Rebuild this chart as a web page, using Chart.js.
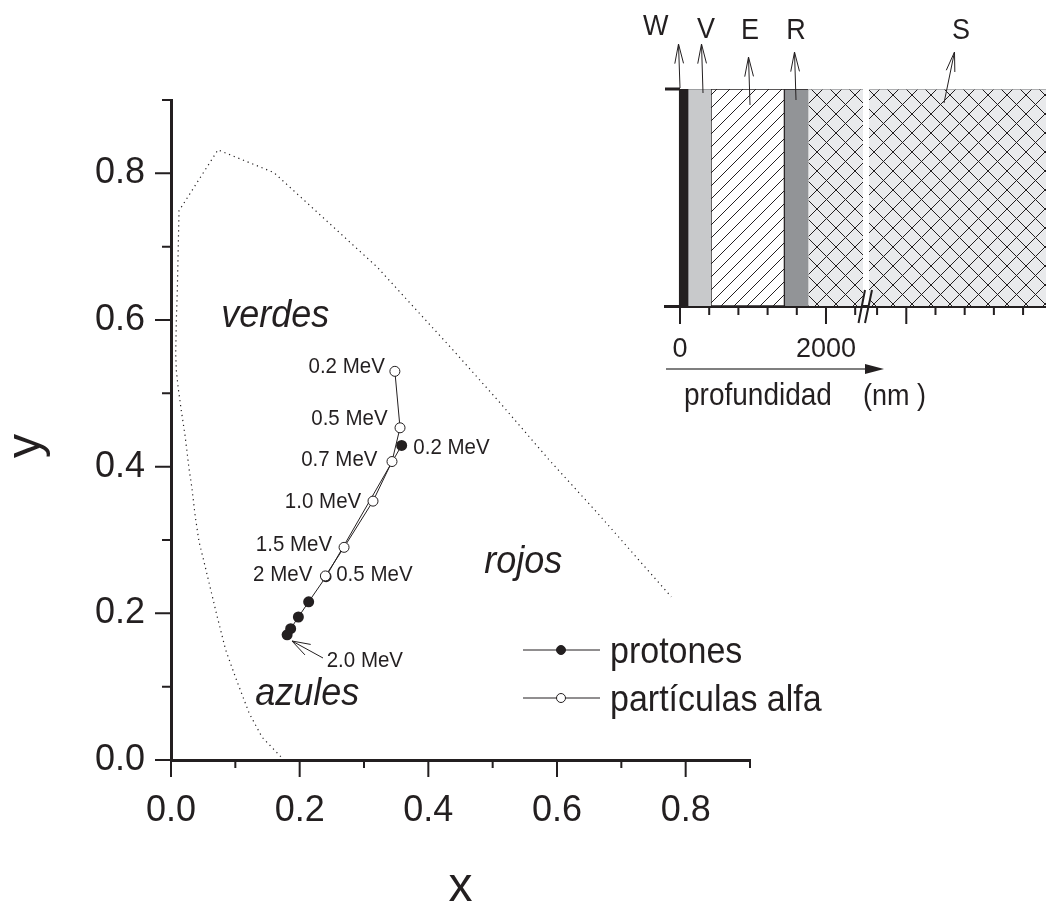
<!DOCTYPE html>
<html>
<head>
<meta charset="utf-8">
<title>Coordenadas de color</title>
<script src="https://cdn.jsdelivr.net/npm/chart.js@4/dist/chart.umd.min.js"></script>
<style>
    body { margin: 0; background: #fff; }
    canvas { position: absolute; left: 0; top: 0; }
</style>
</head>
<body>
<canvas id="cie-chart" width="1046" height="909"></canvas>
<canvas id="layers-chart" width="1046" height="909"></canvas>
<script>
// Chromaticity values
const locusX = [0.1707, 0.1416, 0.1214, 0.1007, 0.085, 0.0706, 0.0607, 0.0514, 0.0436, 0.0374, 0.0327, 0.028, 0.0218, 0.0156, 0.0114, 0.0083, 0.0073, 0.0083, 0.0098, 0.0125, 0.073, 0.160, 0.3206, 0.4405, 0.5105, 0.5883, 0.666, 0.7388, 0.7777];
const locusY = [0.0045, 0.031, 0.064, 0.1117, 0.150, 0.1998, 0.236, 0.270, 0.2975, 0.3338, 0.370, 0.3974, 0.4428, 0.479, 0.506, 0.531, 0.554, 0.5995, 0.640, 0.749, 0.832, 0.801, 0.672, 0.557, 0.488, 0.4087, 0.3338, 0.2612, 0.2225];
const alphaX = [0.348, 0.356, 0.3435, 0.314, 0.269, 0.240];
const alphaY = [0.530, 0.453, 0.407, 0.353, 0.290, 0.251];
const protonX = [0.3585, 0.241, 0.214, 0.198, 0.186, 0.1805];
const protonY = [0.429, 0.250, 0.2157, 0.195, 0.179, 0.1707];
const cieTicks = [0, 0.1, 0.2, 0.3, 0.4, 0.5, 0.6, 0.7, 0.8, 0.9];

// Layer stack of the inset, in nm
const layerNames = ['W', 'V', 'E', 'R', 'S', 'S'];
const layerStart = [-10, 110, 425, 1430, 1760, 2590];
const layerEnd = [110, 425, 1430, 1760, 2507, 5014];
const depthTicks = [0, 400, 800, 1200, 1600, 2000, 2400, 2700, 3100, 3500, 3900, 4300, 4700];
const depthMajor = [0, 2000, 3100];
const depthLabels = [0, 2000];

const energyLabels = ['0.2 MeV', '0.5 MeV', '0.7 MeV', '1.0 MeV', '1.5 MeV', '2 MeV', '0.5 MeV', '0.2 MeV', '2.0 MeV'];
const energyLabelX = [0.2137, 0.218, 0.2023, 0.177, 0.1318, 0.1276, 0.2568, 0.3766, 0.242];
const energyLabelY = [0.536, 0.465, 0.409, 0.3515, 0.294, 0.252, 0.252, 0.426, 0.135];
const regionLabels = ['verdes', 'rojos', 'azules'];
const regionLabelX = [0.078, 0.487, 0.131];
const regionLabelY = [0.590, 0.255, 0.075];

const INK = '#231f20';
const FONT = '"Liberation Sans", Arial, sans-serif';

// Open arrow head, the way the original was inked
function openArrow(ctx, x1, y1, x2, y2, barb, spread) {
    const angle = Math.atan2(y2 - y1, x2 - x1);
    ctx.save();
    ctx.strokeStyle = INK;
    ctx.lineWidth = 1;
    ctx.beginPath();
    ctx.moveTo(x1, y1);
    ctx.lineTo(x2, y2);
    [-spread, spread].forEach(a => {
        ctx.moveTo(x2, y2);
        ctx.lineTo(x2 - barb * Math.cos(angle + a), y2 - barb * Math.sin(angle + a));
    });
    ctx.stroke();
    ctx.restore();
}

// The original lettering is a little taller than it is wide, hence the stretch
function text(ctx, str, x, y, font, align, baseline) {
    ctx.save();
    ctx.fillStyle = INK;
    ctx.font = font;
    ctx.textAlign = align || 'left';
    ctx.textBaseline = baseline || 'alphabetic';
    ctx.translate(x, y);
    ctx.scale(1, 1.1);
    ctx.fillText(str, 0, 0);
    ctx.restore();
}

// Chart.js can't vary tick length per tick, so major and minor marks are drawn here
function drawTicks(ctx, scale, values, isMajor, majorLen, minorLen) {
    ctx.save();
    ctx.strokeStyle = INK;
    ctx.lineWidth = 2;
    ctx.beginPath();
    values.forEach(v => {
        const len = isMajor(v) ? majorLen : minorLen;
        const p = scale.getPixelForValue(v);
        if (scale.isHorizontal()) {
            ctx.moveTo(p, scale.top);
            ctx.lineTo(p, scale.top + len);
        } else {
            ctx.moveTo(scale.right, p);
            ctx.lineTo(scale.right - len, p);
        }
    });
    ctx.stroke();
    ctx.restore();
}

function isEven(v) {
    return Math.round(v * 10) % 2 === 0;
}

const ciePlugin = {
    id: 'cieExtras',
    afterDraw(chart) {
        const ctx = chart.ctx;
        const xs = chart.scales.x;
        const ys = chart.scales.y;
        drawTicks(ctx, xs, cieTicks, isEven, 17, 8);
        drawTicks(ctx, ys, cieTicks, isEven, 16, 9);

        energyLabels.forEach((t, i) => {
            text(ctx, t, xs.getPixelForValue(energyLabelX[i]), ys.getPixelForValue(energyLabelY[i]), '20.5px ' + FONT, 'left', 'middle');
        });
        regionLabels.forEach((t, i) => {
            text(ctx, t, xs.getPixelForValue(regionLabelX[i]), ys.getPixelForValue(regionLabelY[i]), 'italic 36px ' + FONT);
        });

        // 2.0 MeV pointer
        openArrow(ctx, 323, 658, 292, 641, 19, 0.32);

        // y axis title
        ctx.save();
        ctx.translate(39.5, 446);
        ctx.rotate(-Math.PI / 2);
        ctx.fillStyle = INK;
        ctx.font = '48px ' + FONT;
        ctx.textAlign = 'center';
        ctx.fillText('y', 0, 0);
        ctx.restore();

        // legend
        [['protones', 650, INK], ['partículas alfa', 698, '#fff']].forEach(row => {
            ctx.save();
            ctx.strokeStyle = INK;
            ctx.lineWidth = 1;
            ctx.beginPath();
            ctx.moveTo(523, row[1]);
            ctx.lineTo(600, row[1]);
            ctx.stroke();
            ctx.fillStyle = row[2];
            ctx.beginPath();
            ctx.arc(561, row[1], 4.5, 0, Math.PI * 2);
            ctx.fill();
            ctx.stroke();
            ctx.restore();
            text(ctx, row[0], 610, row[1] + 13, '34px ' + FONT);
        });
    }
};

new Chart(document.getElementById('cie-chart'), {
    type: 'scatter',
    plugins: [ciePlugin],
    data: {
        datasets: [
            {
                label: 'partículas alfa',
                data: alphaX.map((x, i) => ({ x: x, y: alphaY[i] })),
                showLine: true,
                borderColor: INK,
                borderWidth: 1,
                pointRadius: 5,
                pointBackgroundColor: '#fff',
                pointBorderColor: INK,
                pointBorderWidth: 1
            },
            {
                label: 'protones',
                data: protonX.map((x, i) => ({ x: x, y: protonY[i] })),
                showLine: true,
                borderColor: INK,
                borderWidth: 1,
                pointRadius: 5.5,
                pointBackgroundColor: INK,
                pointBorderColor: INK,
                pointBorderWidth: 0
            },
            {
                label: 'locus',
                data: locusX.map((x, i) => ({ x: x, y: locusY[i] })),
                showLine: true,
                borderColor: INK,
                borderWidth: 1.2,
                borderDash: [1.2, 3.8],
                pointRadius: 0
            }
        ]
    },
    options: {
        responsive: false,
        animation: false,
        layout: { padding: { left: 0, top: 100, right: 296, bottom: 0 } },
        plugins: { legend: { display: false }, tooltip: { enabled: false } },
        scales: {
            x: {
                type: 'linear',
                min: 0,
                max: 0.9,
                afterFit: s => { s.height = 149; },
                afterBuildTicks: s => { s.ticks = cieTicks.map(v => ({ value: v })); },
                grid: { display: false },
                border: { color: INK, width: 3 },
                title: { display: true, text: 'x', color: INK, font: { family: FONT, size: 48, lineHeight: 0.9 }, padding: { top: 0, bottom: 0 } },
                ticks: {
                    autoSkip: false,
                    maxRotation: 0,
                    padding: 21,
                    color: INK,
                    font: { family: FONT, size: 36 },
                    callback: v => isEven(v) ? v.toFixed(1) : ''
                }
            },
            y: {
                type: 'linear',
                min: 0,
                max: 0.9,
                afterFit: s => { s.width = 171; },
                afterBuildTicks: s => { s.ticks = cieTicks.map(v => ({ value: v })); },
                grid: { display: false },
                border: { color: INK, width: 3 },
                ticks: {
                    autoSkip: false,
                    padding: 18,
                    color: INK,
                    font: { family: FONT, size: 36 },
                    callback: v => isEven(v) ? v.toFixed(1) : ''
                }
            }
        }
    }
});

// Tiled hatch fills for the E and S layers
function hatch(size, both, background) {
    const tile = document.createElement('canvas');
    tile.width = size;
    tile.height = size;
    const c = tile.getContext('2d');
    c.fillStyle = background;
    c.fillRect(0, 0, size, size);
    c.strokeStyle = '#231f20';
    c.lineWidth = 1;
    c.beginPath();
    c.moveTo(-1, size + 1);
    c.lineTo(size + 1, -1);
    if (both) {
        c.moveTo(-1, -1);
        c.lineTo(size + 1, size + 1);
    }
    c.stroke();
    return c.createPattern(tile, 'repeat');
}

const singleHatch = hatch(13, false, '#fff');
const crossHatch = hatch(19, true, '#e9eaec');
const layerFill = [INK, '#c8c9cb', singleHatch, '#929497', crossHatch, crossHatch];
const layerBorder = [
    0,
    { top: 1, bottom: 0, left: 0, right: 0 },
    1,
    { top: 1, bottom: 0, left: 1, right: 0 },
    { top: 1, bottom: 0, left: 0, right: 0 },
    { top: 1, bottom: 0, left: 0, right: 0 }
];
const layerLine = [INK, '#8f9193', INK, INK, '#9a9b9d', '#9a9b9d'];

const layersPlugin = {
    id: 'layerExtras',
    afterDraw(chart) {
        const ctx = chart.ctx;
        const xs = chart.scales.x;
        drawTicks(ctx, xs, depthTicks, v => depthMajor.includes(v), 18, 9);

        // stub of the top line
        ctx.save();
        ctx.strokeStyle = INK;
        ctx.lineWidth = 3;
        ctx.beginPath();
        ctx.moveTo(665, 89);
        ctx.lineTo(680, 89);
        ctx.stroke();

        // axis break
        ctx.lineWidth = 2;
        ctx.beginPath();
        ctx.moveTo(858.5, 323);
        ctx.lineTo(865, 290);
        ctx.moveTo(865, 323);
        ctx.lineTo(872, 290);
        ctx.stroke();

        // depth arrow
        ctx.strokeStyle = '#555';
        ctx.lineWidth = 1.5;
        ctx.beginPath();
        ctx.moveTo(666, 369);
        ctx.lineTo(866, 369);
        ctx.stroke();
        ctx.fillStyle = INK;
        ctx.beginPath();
        ctx.moveTo(884, 369);
        ctx.lineTo(865, 364);
        ctx.lineTo(865, 374);
        ctx.closePath();
        ctx.fill();
        ctx.restore();

        text(ctx, 'profundidad', 684, 405, '28px ' + FONT);
        text(ctx, '(nm )', 863, 405, '27px ' + FONT);

        // layer names with their pointers
        text(ctx, 'W', 643, 35, '27px ' + FONT);
        text(ctx, 'V', 706, 38, '27px ' + FONT, 'center');
        text(ctx, 'E', 750, 39, '27px ' + FONT, 'center');
        text(ctx, 'R', 796, 39, '27px ' + FONT, 'center');
        text(ctx, 'S', 961, 39, '27px ' + FONT, 'center');
        openArrow(ctx, 680, 88, 678.5, 44, 20, 0.22);
        openArrow(ctx, 703, 93, 701.5, 44, 20, 0.22);
        openArrow(ctx, 750, 105, 748.5, 57, 20, 0.22);
        openArrow(ctx, 796, 100, 794.5, 52, 20, 0.22);
        openArrow(ctx, 944, 103, 954.5, 52, 20, 0.22);
    }
};

new Chart(document.getElementById('layers-chart'), {
    type: 'bar',
    plugins: [layersPlugin],
    data: {
        labels: ['capas'],
        datasets: layerNames.map((name, i) => ({
            label: name,
            data: [[layerStart[i], layerEnd[i]]],
            backgroundColor: layerFill[i],
            borderColor: layerLine[i],
            borderWidth: layerBorder[i],
            borderSkipped: false,
            grouped: false,
            barPercentage: 1,
            categoryPercentage: 1
        }))
    },
    options: {
        indexAxis: 'y',
        responsive: false,
        animation: false,
        layout: { padding: { left: 665, top: 89, right: 0, bottom: 0 } },
        plugins: { legend: { display: false }, tooltip: { enabled: false } },
        scales: {
            x: {
                type: 'linear',
                min: -205.5,
                max: 5014,
                // drop the 3px Chart.js keeps free beside the last tick label
                afterFit: s => { s.height = 603; s.paddingRight = 0; },
                afterBuildTicks: s => { s.ticks = depthTicks.map(v => ({ value: v })); },
                grid: { display: false },
                border: { color: INK, width: 3 },
                ticks: {
                    autoSkip: false,
                    maxRotation: 0,
                    padding: 19,
                    color: INK,
                    font: { family: FONT, size: 27 },
                    callback: v => depthLabels.includes(v) ? String(v) : ''
                }
            },
            y: { display: false }
        }
    }
});
</script>
</body>
</html>
